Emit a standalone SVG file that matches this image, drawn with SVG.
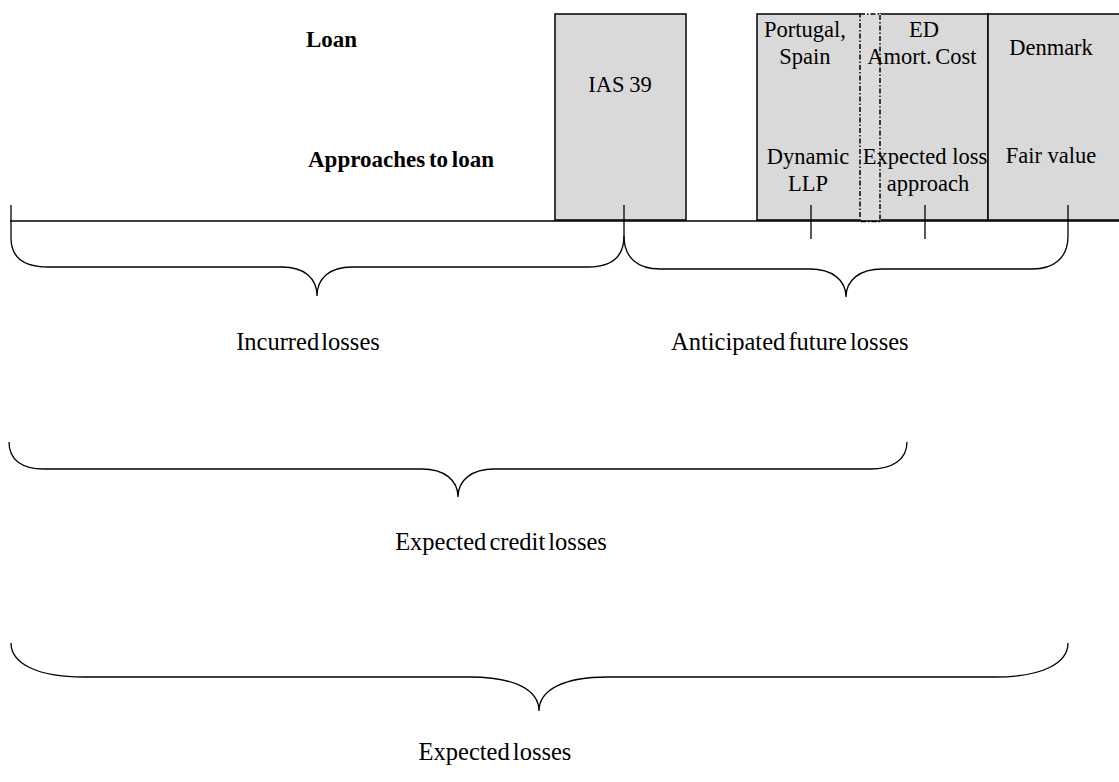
<svg xmlns="http://www.w3.org/2000/svg" width="1119" height="782" viewBox="0 0 1119 782">
<style>
.t{font-family:"Liberation Serif","Times New Roman",serif;fill:#000}
.b{font-weight:bold;font-size:23px}
.s{font-size:22.5px}
.m{font-size:24.5px}
.box{fill:#d9d9d9;stroke:#000;stroke-width:1.5}
.ln{fill:none;stroke:#000;stroke-width:1.3}
</style>
<rect width="1119" height="782" fill="#fff"/>
<g id="labels">
<text class="t b" x="306" y="47">Loan</text>
<text class="t b" x="308" y="167" word-spacing="-2">Approaches to loan</text>
</g>
<g id="ias39">
<rect class="box" x="555" y="14" width="131" height="206"/>
<text class="t s" x="620" y="92" text-anchor="middle" word-spacing="-1">IAS 39</text>
</g>
<g id="portugal-spain">
<rect class="box" x="757" y="14" width="103" height="206"/>
<text class="t s" x="805" y="37" text-anchor="middle">Portugal,</text>
<text class="t s" x="805" y="64" text-anchor="middle">Spain</text>
<text class="t s" x="808" y="164" text-anchor="middle">Dynamic</text>
<text class="t s" x="808" y="191" text-anchor="middle">LLP</text>
</g>
<g id="ed">
<rect class="box" x="880" y="14" width="108" height="206"/>
</g>
<g id="ed-band">
<rect x="859" y="14" width="22" height="207" fill="#dcdcdc"/>
<rect x="860" y="14" width="20" height="207.5" fill="none" stroke="#000" stroke-width="1.5" stroke-dasharray="5,2,1.5,2"/>
</g>
<g id="ed-text">
<text class="t s" x="924" y="37" text-anchor="middle">ED</text>
<text class="t s" x="922" y="64" text-anchor="middle" word-spacing="-2">Amort. Cost</text>
<text class="t s" x="925" y="164" text-anchor="middle">Expected loss</text>
<text class="t s" x="928" y="191" text-anchor="middle">approach</text>
</g>
<g id="denmark">
<rect class="box" x="988" y="14" width="140" height="206" stroke-width="2.5"/>
<text class="t s" x="1051" y="55" text-anchor="middle">Denmark</text>
<text class="t s" x="1051" y="163" text-anchor="middle">Fair value</text>
</g>
<g id="connectors">
<line class="ln" x1="10" y1="221" x2="1119" y2="221"/>
<line class="ln" x1="11" y1="205" x2="11" y2="238"/>
<line class="ln" x1="624" y1="205" x2="624" y2="236"/>
<line class="ln" x1="811" y1="205" x2="811" y2="239"/>
<line class="ln" x1="925" y1="205" x2="925" y2="239"/>
<line class="ln" x1="1068" y1="205" x2="1068" y2="236"/>
<path class="ln" d="M11,238 C11,258 24,267 48,267 L282,267 C304,267 317,278 317,296 C317,278 330,267 352,267 L588,267 C610,267 624,258 624,236"/>
<path class="ln" d="M624,236 C624,258 638,269 660,269 L810,269 C832,269 846,280 846,297 C846,280 860,269 882,269 L1032,269 C1054,269 1068,258 1068,236"/>
<path class="ln" d="M9,442 C9,460 22,469 44,469 L422,469 C444,469 458,480 458,497 C458,480 472,469 494,469 L870,469 C892,469 907,460 907,442"/>
<path class="ln" d="M11,643 C11,663 36,677 84,677 L470,677 C515,677 539,690 539,711 C539,690 563,677 608,677 L995,677 C1043,677 1068,663 1068,643"/>
</g>
<g id="brace-labels">
<text class="t m" x="308" y="350" text-anchor="middle" word-spacing="-4">Incurred losses</text>
<text class="t m" x="671" y="350" word-spacing="-3">Anticipated future losses</text>
<text class="t m" x="501" y="550" text-anchor="middle" word-spacing="-3">Expected credit losses</text>
<text class="t m" x="495" y="760" text-anchor="middle" word-spacing="-3">Expected losses</text>
</g>
</svg>
